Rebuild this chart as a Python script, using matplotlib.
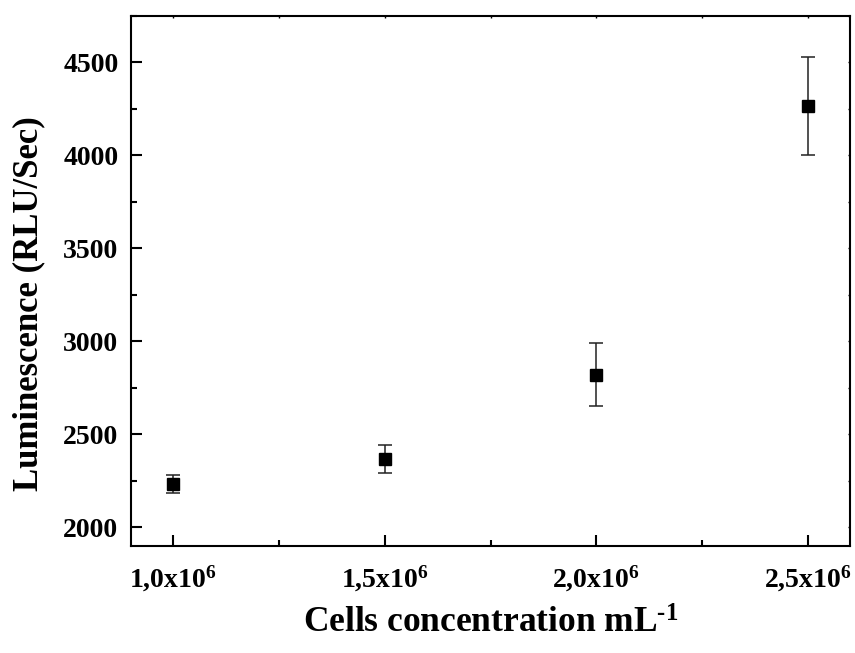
import matplotlib
matplotlib.use("Agg")
import matplotlib.pyplot as plt
from matplotlib.ticker import FixedLocator, MultipleLocator

plt.rcParams['font.family'] = ['Liberation Serif', 'DejaVu Serif']
plt.rcParams['font.weight'] = 'bold'
plt.rcParams['mathtext.fontset'] = 'custom'
plt.rcParams['mathtext.rm'] = 'Liberation Serif:bold'
plt.rcParams['mathtext.bf'] = 'Liberation Serif:bold'
plt.rcParams['mathtext.it'] = 'Liberation Serif:bold'

concentration = [1.0e6, 1.5e6, 2.0e6, 2.5e6]
luminescence = [2233, 2366, 2822, 4267]
errors = [50, 76, 170, 262]
xtick_labels = ["1,0x10$^{6}$", "1,5x10$^{6}$", "2,0x10$^{6}$", "2,5x10$^{6}$"]

fig = plt.figure(figsize=(8.55, 6.53), dpi=100)
ax = fig.add_axes([0.1532, 0.1639, 0.8410, 0.8116])

ax.errorbar(concentration, luminescence, yerr=errors, fmt='s', color='black',
            markersize=9, capsize=5, elinewidth=1.1, capthick=1.1, ecolor='#222222')

ax.set_xlim(0.9e6, 2.6e6)
ax.set_ylim(1900, 4750)
ax.xaxis.set_major_locator(FixedLocator(concentration))
ax.set_xticklabels(xtick_labels)
ax.xaxis.set_minor_locator(MultipleLocator(0.25e6))
ax.yaxis.set_major_locator(MultipleLocator(500))
ax.yaxis.set_minor_locator(MultipleLocator(250))

for s in ax.spines.values():
    s.set_linewidth(1.5)

ax.tick_params(axis='both', which='major', direction='in', length=8, width=1.5,
               labelsize=20, top=False, right=False)
ax.tick_params(axis='x', which='major', pad=13)
ax.tick_params(axis='y', which='major', pad=9)
ax.tick_params(axis='both', which='minor', direction='in', length=4.5, width=1.5,
               top=False, right=False)
for lab in ax.get_xticklabels() + ax.get_yticklabels():
    lab.set_fontweight('bold')

# small marks on top/right spines
ax2 = ax.secondary_xaxis('top')
ax2.xaxis.set_major_locator(FixedLocator(concentration))
ax2.xaxis.set_minor_locator(MultipleLocator(0.25e6))
ax2.tick_params(which='both', direction='in', length=1.5, width=1, labeltop=False)
ax2.spines['top'].set_visible(False)
ax3 = ax.secondary_yaxis('right')
ax3.yaxis.set_major_locator(MultipleLocator(500))
ax3.yaxis.set_minor_locator(MultipleLocator(250))
ax3.tick_params(which='both', direction='in', length=1.5, width=1, labelright=False)
ax3.spines['right'].set_visible(False)

ax.set_xlabel("Cells concentration mL$^{\\text{-}1}$", fontsize=25.5, fontweight='bold', labelpad=10)
ax.set_ylabel("Luminescence (RLU/Sec)", fontsize=25, fontweight='bold', labelpad=13, y=0.458)

fig.savefig("out.png", dpi=100)
